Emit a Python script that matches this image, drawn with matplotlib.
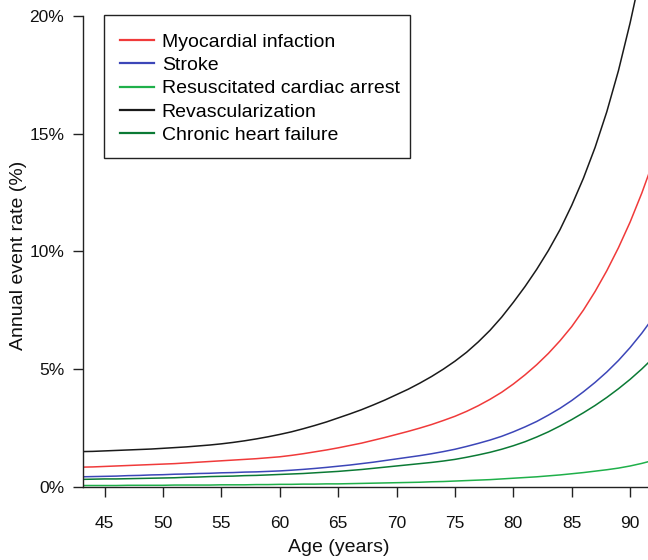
import matplotlib
matplotlib.use("Agg")
import matplotlib.pyplot as plt
from matplotlib.patches import Rectangle

plt.rcParams["font.family"] = ["Liberation Sans", "DejaVu Sans"]

# Age in years
ages = list(range(43, 93))

# Annual event rates (%) by age
myocardial = [0.83, 0.84, 0.86, 0.88, 0.90, 0.92, 0.94, 0.96, 0.98, 1.01,
              1.04, 1.07, 1.10, 1.13, 1.16, 1.19, 1.23, 1.27, 1.33, 1.40,
              1.48, 1.56, 1.65, 1.75, 1.85, 1.97, 2.09, 2.22, 2.35, 2.49,
              2.64, 2.81, 2.99, 3.20, 3.44, 3.71, 4.01, 4.36, 4.75, 5.18,
              5.66, 6.20, 6.80, 7.50, 8.29, 9.17, 10.15, 11.24, 12.47, 13.84]

stroke = [0.42, 0.43, 0.44, 0.45, 0.47, 0.48, 0.50, 0.51, 0.53, 0.54,
          0.56, 0.57, 0.59, 0.60, 0.62, 0.63, 0.65, 0.67, 0.70, 0.735,
          0.775, 0.82, 0.87, 0.92, 0.98, 1.04, 1.11, 1.18, 1.25, 1.32,
          1.40, 1.49, 1.59, 1.71, 1.84, 1.98, 2.14, 2.33, 2.54, 2.77,
          3.04, 3.33, 3.66, 4.03, 4.43, 4.87, 5.36, 5.91, 6.52, 7.20]

cardiac_arrest = [0.05, 0.05, 0.05, 0.05, 0.06, 0.06, 0.06, 0.06, 0.07, 0.07,
                  0.07, 0.07, 0.08, 0.08, 0.08, 0.09, 0.09, 0.10, 0.10, 0.11,
                  0.11, 0.12, 0.12, 0.13, 0.14, 0.15, 0.16, 0.17, 0.18, 0.19,
                  0.21, 0.22, 0.24, 0.26, 0.28, 0.30, 0.33, 0.36, 0.39, 0.42,
                  0.46, 0.50, 0.55, 0.60, 0.66, 0.72, 0.79, 0.88, 0.99, 1.12]

revascularization = [1.49, 1.50, 1.52, 1.54, 1.56, 1.58, 1.60, 1.63, 1.66, 1.69,
                     1.73, 1.77, 1.82, 1.88, 1.95, 2.03, 2.12, 2.22, 2.33, 2.46,
                     2.60, 2.75, 2.92, 3.09, 3.27, 3.47, 3.68, 3.91, 4.14, 4.40,
                     4.68, 4.99, 5.33, 5.71, 6.15, 6.64, 7.20, 7.83, 8.50, 9.23,
                     10.03, 10.92, 11.95, 13.10, 14.41, 15.92, 17.67, 19.70, 21.97, 24.50]

heart_failure = [0.31, 0.32, 0.33, 0.33, 0.34, 0.35, 0.36, 0.37, 0.38, 0.40,
                 0.41, 0.43, 0.44, 0.45, 0.47, 0.48, 0.50, 0.52, 0.54, 0.56,
                 0.59, 0.62, 0.65, 0.69, 0.73, 0.78, 0.83, 0.88, 0.93, 0.98,
                 1.03, 1.09, 1.16, 1.25, 1.35, 1.46, 1.59, 1.74, 1.91, 2.11,
                 2.33, 2.58, 2.85, 3.14, 3.45, 3.79, 4.16, 4.56, 5.00, 5.48]

series_labels = ["Myocardial infaction", "Stroke", "Resuscitated cardiac arrest",
                 "Revascularization", "Chronic heart failure"]
series_colors = ["#f03a3a", "#3c46b8", "#1fb04a", "#1a1a1a", "#0b7a35"]
series_values = [myocardial, stroke, cardiac_arrest, revascularization, heart_failure]

y_ticks = [0, 5, 10, 15, 20]
y_tick_labels = ["0%", "5%", "10%", "15%", "20%"]
x_ticks = [45, 50, 55, 60, 65, 70, 75, 80, 85, 90]

W, H = 648, 560
fig = plt.figure(figsize=(W / 100, H / 100), dpi=100)
left_px, bottom_px = 82.7, 486.7
ax = fig.add_axes([left_px / W, 1 - bottom_px / H, 1 - left_px / W, bottom_px / H])

for vals, lab, col in zip(series_values, series_labels, series_colors):
    ax.plot(ages, vals, color=col, lw=1.1, label=lab, solid_joinstyle="round")

ax.set_xlim(43.13, 91.53)
ax.set_ylim(0, 20.67)

for side in ("top", "right"):
    ax.spines[side].set_visible(False)
ax.spines["left"].set_bounds(0, 20)
for side in ("left", "bottom"):
    ax.spines[side].set_linewidth(1.0)
    ax.spines[side].set_color("#222222")

ax.set_yticks(y_ticks)
ax.set_yticklabels(y_tick_labels)
ax.set_xticks(x_ticks)
ax.tick_params(axis="both", direction="out", length=7.2, width=1.0,
               color="#222222", labelsize=12.5, labelcolor="#111111")
ax.tick_params(axis="x", pad=14)
ax.tick_params(axis="y", pad=6)

# Axis titles
fig.text(339 / W, 1 - 548 / H, "Age (years)", fontsize=14, color="#111111",
         ha="center", va="center")
fig.text(19 / W, 1 - 255 / H, "Annual event rate (%)", fontsize=14,
         color="#111111", ha="center", va="center", rotation=90)

# Legend entries, with a plain rectangular box drawn around them
leg = ax.legend(loc="upper left", bbox_to_anchor=(104 / W, 1 - 17.5 / H),
                bbox_transform=fig.transFigure, borderaxespad=0,
                fontsize=14, handlelength=1.75, handletextpad=0.4,
                labelspacing=0.285, borderpad=0.82, frameon=False)
for line in leg.get_lines():
    line.set_linewidth(1.6)

box_x0, box_y0, box_x1, box_y1 = 104, 15, 410, 158
fig.patches.append(Rectangle((box_x0 / W, 1 - box_y1 / H),
                             (box_x1 - box_x0) / W, (box_y1 - box_y0) / H,
                             transform=fig.transFigure, fill=False,
                             edgecolor="#222222", linewidth=1.0, zorder=5))

fig.savefig("out.png", dpi=100)
